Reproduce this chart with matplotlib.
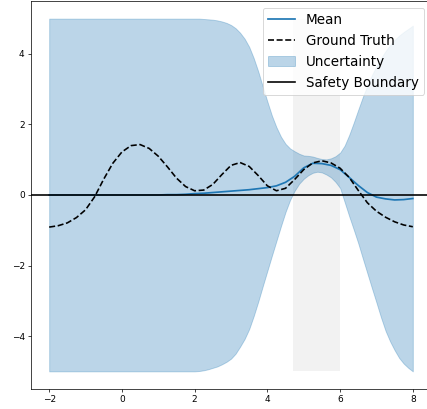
import numpy as np
import matplotlib
matplotlib.use("Agg")
import matplotlib.pyplot as plt

# curves, step 0.25 from -2 to 8
x = np.arange(-2, 8.01, 0.25)

ground_truth = [-0.91, -0.87, -0.79, -0.64, -0.42, -0.05, 0.45, 0.90, 1.22, 1.40,
                1.43, 1.32, 1.10, 0.80, 0.48, 0.24, 0.12, 0.14, 0.30, 0.58,
                0.84, 0.92, 0.81, 0.55, 0.26, 0.12, 0.19, 0.44, 0.72, 0.91,
                0.97, 0.91, 0.76, 0.50, 0.13, -0.22, -0.46, -0.63, -0.76, -0.85,
                -0.90]

mean = [0.0, 0.0, 0.0, 0.0, 0.0, 0.0, 0.0, 0.0, 0.0, 0.0,
        0.0, 0.0, 0.0, 0.01, 0.01, 0.02, 0.04, 0.05, 0.07, 0.09,
        0.11, 0.13, 0.15, 0.18, 0.21, 0.26, 0.36, 0.53, 0.77, 0.90,
        0.89, 0.84, 0.72, 0.50, 0.27, 0.07, -0.06, -0.11, -0.14, -0.13,
        -0.10]

# uncertainty band edges, finer steps where the band changes fast
band_x = [-2.0, -1.0, 0.0, 1.0, 1.5] + list(np.arange(2.0, 8.01, 0.125))

band_upper = [5.0, 5.0, 5.0, 5.0, 5.0,
              5.0, 5.0, 4.99, 4.98, 4.97, 4.95, 4.92, 4.88,
              4.82, 4.73, 4.6, 4.43, 4.2, 3.88, 3.5, 3.07,
              2.65, 2.25, 1.92, 1.65, 1.45, 1.32, 1.24, 1.17,
              1.12, 1.11, 1.09, 1.05, 1.02, 1.01, 1.04, 1.1,
              1.2, 1.4, 1.7, 2.05, 2.42, 2.78, 3.1, 3.4,
              3.65, 3.88, 4.08, 4.25, 4.4, 4.52, 4.62, 4.71,
              4.8]

band_lower = [-5.0, -5.0, -5.0, -5.0, -5.0,
              -5.0, -4.99, -4.97, -4.94, -4.9, -4.86, -4.8, -4.73,
              -4.64, -4.5, -4.3, -4.08, -3.8, -3.43, -3.02, -2.58,
              -2.15, -1.72, -1.3, -0.88, -0.48, -0.14, 0.12, 0.32,
              0.46, 0.56, 0.63, 0.66, 0.64, 0.58, 0.5, 0.37,
              0.2, -0.2, -0.6, -0.98, -1.37, -1.8, -2.22, -2.64,
              -3.05, -3.47, -3.85, -4.15, -4.4, -4.62, -4.78, -4.9,
              -5.0]

safe_region = [4.7, 6.0]

fig = plt.figure(figsize=(427 / 65, 409 / 65), dpi=65)
ax = fig.add_axes([31 / 427, 20 / 409, 400 / 427, 388 / 409])

ax.fill_between(safe_region, -5, 5, color='gray', alpha=0.1, linewidth=0)
ax.plot(x, mean, color='C0', lw=1.9, label='Mean')
ax.plot(x, ground_truth, 'k--', lw=1.8, label='Ground Truth')
ax.fill_between(band_x, band_lower, band_upper, color='C0', alpha=0.3, label='Uncertainty')
ax.axhline(0, color='k', lw=1.8, label='Safety Boundary')

ax.set_xlim(-2.5, 8.5)
ax.set_ylim(-5.5, 5.5)
ax.legend(loc='upper right', fontsize=15)

fig.savefig('out.png', dpi=65)
